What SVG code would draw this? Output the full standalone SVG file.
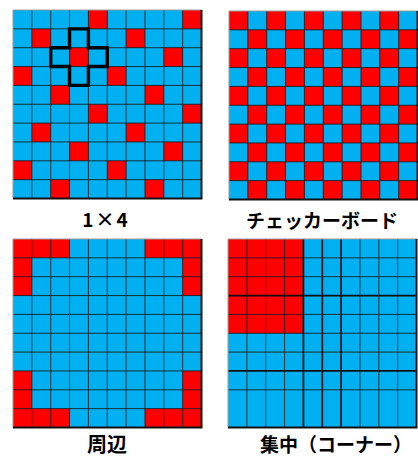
<svg xmlns="http://www.w3.org/2000/svg" xmlns:xlink="http://www.w3.org/1999/xlink" width="418" height="459" viewBox="0 0 418 459">
<style>
.bg{fill:#00B0F0}
.r{fill:#FF0000}
.ln{fill:none;stroke:#1a1a1a;stroke-width:1;stroke-opacity:0.85}
.lt{fill:none;stroke:#111;stroke-width:1.8}
.fr{fill:none;stroke:#999;stroke-width:1}
.fd{fill:none;stroke:#111;stroke-width:2}
.cross{fill:none;stroke:#000;stroke-width:3.4;stroke-linejoin:miter}
.lbl{font-family:"Noto Sans CJK JP","Noto Sans",sans-serif;font-weight:bold;fill:#000;text-anchor:middle}
</style>
<defs>
<pattern id="chk" patternUnits="userSpaceOnUse" width="37.7" height="37.7">
<rect width="37.7" height="37.7" fill="#00B0F0"/>
<rect x="0" y="0" width="18.85" height="18.85" fill="#FF0000"/>
<rect x="18.85" y="18.85" width="18.85" height="18.85" fill="#FF0000"/>
</pattern>
<path id="lines" class="ln" d="M18.85 0V188.5M37.7 0V188.5M56.55 0V188.5M75.4 0V188.5M94.25 0V188.5M113.1 0V188.5M131.95 0V188.5M150.8 0V188.5M169.65 0V188.5M0 18.85H188.5M0 37.7H188.5M0 56.55H188.5M0 75.4H188.5M0 94.25H188.5M0 113.1H188.5M0 131.95H188.5M0 150.8H188.5M0 169.65H188.5"/>
<g id="frame">
<path class="fr" d="M0 188.5V0H188.5"/>
<path class="fd" d="M188.5 0V188.5H0"/>
</g>
</defs>

<g id="grid-1x4" transform="translate(13,10)">
<rect class="bg" width="188.5" height="188.5"/>
<g class="r">
<rect x="75.4" y="0" width="18.85" height="18.85"/>
<rect x="169.65" y="0" width="18.85" height="18.85"/>
<rect x="18.85" y="18.85" width="18.85" height="18.85"/>
<rect x="113.1" y="18.85" width="18.85" height="18.85"/>
<rect x="56.55" y="37.7" width="18.85" height="18.85"/>
<rect x="150.8" y="37.7" width="18.85" height="18.85"/>
<rect x="0" y="56.55" width="18.85" height="18.85"/>
<rect x="94.25" y="56.55" width="18.85" height="18.85"/>
<rect x="37.7" y="75.4" width="18.85" height="18.85"/>
<rect x="131.95" y="75.4" width="18.85" height="18.85"/>
<rect x="75.4" y="94.25" width="18.85" height="18.85"/>
<rect x="169.65" y="94.25" width="18.85" height="18.85"/>
<rect x="18.85" y="113.1" width="18.85" height="18.85"/>
<rect x="113.1" y="113.1" width="18.85" height="18.85"/>
<rect x="56.55" y="131.95" width="18.85" height="18.85"/>
<rect x="150.8" y="131.95" width="18.85" height="18.85"/>
<rect x="0" y="150.8" width="18.85" height="18.85"/>
<rect x="94.25" y="150.8" width="18.85" height="18.85"/>
<rect x="37.7" y="169.65" width="18.85" height="18.85"/>
<rect x="131.95" y="169.65" width="18.85" height="18.85"/>
</g>
<use xlink:href="#lines"/>
<use xlink:href="#frame"/>
<polygon class="cross" points="56.55,18.85 75.4,18.85 75.4,37.7 94.25,37.7 94.25,56.55 75.4,56.55 75.4,75.4 56.55,75.4 56.55,56.55 37.7,56.55 37.7,37.7 56.55,37.7"/>
</g>

<g id="grid-checker" transform="translate(229,11)">
<rect width="188.5" height="188.5" fill="url(#chk)"/>
<use xlink:href="#lines"/>
<use xlink:href="#frame"/>
</g>

<g id="grid-edge" transform="translate(13,239)">
<rect class="bg" width="188.5" height="188.5"/>
<g class="r">
<rect x="0" y="0" width="56.55" height="18.85"/>
<rect x="131.95" y="0" width="56.55" height="18.85"/>
<rect x="0" y="18.85" width="18.85" height="37.7"/>
<rect x="169.65" y="18.85" width="18.85" height="37.7"/>
<rect x="0" y="131.95" width="18.85" height="37.7"/>
<rect x="169.65" y="131.95" width="18.85" height="37.7"/>
<rect x="0" y="169.65" width="56.55" height="18.85"/>
<rect x="131.95" y="169.65" width="56.55" height="18.85"/>
</g>
<use xlink:href="#lines"/>
<use xlink:href="#frame"/>
</g>

<g id="grid-corner" transform="translate(228,239)">
<rect class="bg" width="188.5" height="188.5"/>
<rect class="r" width="75.4" height="94.25"/>
<path class="ln" d="M18.85 0V188.5M37.7 0V188.5M56.55 0V188.5M131.95 0V188.5M150.8 0V188.5M169.65 0V188.5M0 18.85H188.5M0 37.7H188.5M0 75.4H188.5M0 94.25H188.5M0 113.1H188.5M0 150.8H188.5"/>
<path class="lt" d="M75.4 0V188.5M94.25 0V188.5M113.1 0V188.5M0 56.55H188.5M0 131.95H188.5"/>
<use xlink:href="#frame"/>
</g>

<g id="labels">
<text class="lbl" x="106" y="227" font-size="19" letter-spacing="2">1×4</text>
<text class="lbl" x="322" y="228" font-size="19">チェッカーボード</text>
<text class="lbl" x="107" y="452" font-size="20">周辺</text>
<text class="lbl" x="336" y="452" font-size="19">集中（コーナー）</text>
</g>
</svg>
